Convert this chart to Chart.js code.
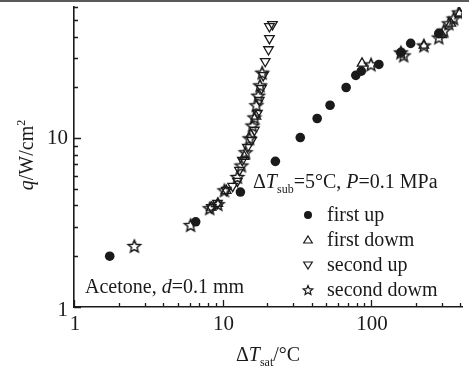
<!DOCTYPE html>
<html>
<head>
<meta charset="utf-8">
<title>Acetone boiling curve</title>
<script src="https://cdn.jsdelivr.net/npm/chart.js@4"></script>
<style>
  html, body { margin: 0; padding: 0; background: #fff; }
</style>
</head>
<body>
<canvas id="chart" width="469" height="372"></canvas>
<script>
// tick labels
const xTicks = [1, 10, 100];
const yTicks = [1, 10];

// first up (filled circles)
const firstUpX = [1.74, 6.6, 13.2, 22.7, 33.4, 43.4, 53, 68, 79, 86, 113, 159, 185, 286];
const firstUpY = [2.0, 3.2, 4.8, 7.3, 10.1, 13.1, 15.7, 20, 23.6, 25, 27.4, 32.3, 36.5, 41.8];

// first dowm (open up triangles)
const firstDownX = [8.4, 9.3, 10.6, 14.0, 15.5, 16.8, 87, 227, 300, 345, 395];
const firstDownY = [3.9, 4.1, 4.9, 7.8, 10.5, 13.5, 27.8, 35.5, 41, 48, 55];

// second up (open down triangles)
const secondUpX = [8.4, 9.25, 10.6, 11.7, 12.6, 13.0, 13.6, 14.7, 15.7, 16.4, 17.2, 17.7, 18.3, 18.8, 19.4, 20.4, 20.7, 20.7, 21.7];
const secondUpY = [3.9, 4.12, 4.92, 5.2, 5.57, 6.47, 7.41, 8.85, 9.73, 11.2, 14.1, 16.8, 19.8, 23.6, 28.6, 33.6, 39.1, 46, 47.3];

// second dowm (open stars)
const secondDownX = [2.55, 6.1, 8.2, 9.3, 10.3, 12.6, 13.4, 14.3, 15.2, 15.9, 16.4, 16.9, 17.4, 17.9, 18.5, 100, 159, 166, 227, 286, 309, 334, 360, 390];
const secondDownY = [2.3, 3.06, 3.85, 4.07, 4.92, 5.9, 6.9, 8.27, 10.0, 11.9, 13.3, 15.7, 17.9, 20.6, 24.5, 27.4, 32.3, 31, 35.5, 39.6, 43.5, 48, 51.3, 55.7];

const FONT = '"Liberation Serif", "Times New Roman", serif';
const INK = '#1a1a1a';

function toPoints(xs, ys) {
  return xs.map((x, i) => ({ x: x, y: ys[i] }));
}

// 5 point open star as an image for pointStyle
function starPath(ctx, cx, cy, R) {
  const r = R * 0.45;
  ctx.beginPath();
  for (let i = 0; i < 10; i++) {
    const a = -Math.PI / 2 + i * Math.PI / 5;
    const rr = i % 2 === 0 ? R : r;
    const px = cx + rr * Math.cos(a), py = cy + rr * Math.sin(a);
    if (i === 0) ctx.moveTo(px, py); else ctx.lineTo(px, py);
  }
  ctx.closePath();
}
function makeStar(R, lw) {
  const c = document.createElement('canvas');
  const s = Math.ceil(R * 2 + lw * 2 + 2);
  c.width = s; c.height = s;
  const g = c.getContext('2d');
  g.strokeStyle = INK;
  g.lineWidth = lw;
  g.lineJoin = 'miter';
  starPath(g, s / 2, s / 2 + R * 0.1, R);
  g.stroke();
  return c;
}
const starImg = makeStar(6.5, 1.5);

// text with italic / sub / sup parts
function runsWidth(ctx, runs, size) {
  let w = 0;
  runs.forEach(r => {
    const fs = (r.sub || r.sup) ? Math.round(size * 0.62) : size;
    ctx.font = (r.it ? 'italic ' : '') + fs + 'px ' + FONT;
    w += ctx.measureText(r.t).width;
  });
  return w;
}
function drawRuns(ctx, runs, x, y, size) {
  let cx = x;
  runs.forEach(r => {
    const fs = (r.sub || r.sup) ? Math.round(size * 0.62) : size;
    ctx.font = (r.it ? 'italic ' : '') + fs + 'px ' + FONT;
    let dy = 0;
    if (r.sub) dy = size * 0.25;
    if (r.sup) dy = -size * 0.42;
    ctx.fillText(r.t, cx, y + dy);
    cx += ctx.measureText(r.t).width;
  });
}

const decor = {
  id: 'decor',
  afterDraw(chart) {
    const ctx = chart.ctx;
    const area = chart.chartArea;
    const xs = chart.scales.x, ys = chart.scales.y;
    ctx.save();

    // top strip of the scan
    ctx.fillStyle = '#5a5a5a';
    ctx.fillRect(0, 0, chart.width, 2);

    // inward ticks, major and minor
    ctx.strokeStyle = INK;
    ctx.lineWidth = 1.3;
    ctx.beginPath();
    for (let d = 1; d <= 100; d *= 10) {
      for (let m = 1; m <= 9; m++) {
        const v = d * m;
        if (v > xs.max) break;
        const px = Math.round(xs.getPixelForValue(v)) + 0.5;
        const len = xTicks.includes(v) ? 7 : 4;
        ctx.moveTo(px, area.bottom);
        ctx.lineTo(px, area.bottom - len);
      }
    }
    for (let d = 1; d <= 10; d *= 10) {
      for (let m = 1; m <= 9; m++) {
        const v = d * m;
        if (v > ys.max) break;
        const py = Math.round(ys.getPixelForValue(v)) + 0.5;
        const len = yTicks.includes(v) ? 7 : 4;
        ctx.moveTo(area.left, py);
        ctx.lineTo(area.left + len, py);
      }
    }
    ctx.stroke();

    ctx.fillStyle = INK;
    const size = 20;

    // tick labels
    ctx.font = '21px ' + FONT;
    ctx.textAlign = 'center';
    ctx.textBaseline = 'top';
    xTicks.forEach(v => ctx.fillText(String(v), xs.getPixelForValue(v) + 1, area.bottom + 7));
    ctx.textAlign = 'right';
    ctx.textBaseline = 'middle';
    yTicks.forEach(v => ctx.fillText(String(v), area.left - 6, ys.getPixelForValue(v) + (v === 1 ? 3 : 0)));

    ctx.textBaseline = 'alphabetic';
    ctx.textAlign = 'left';

    // x title
    const xt = [{ t: 'Δ' }, { t: 'T', it: true }, { t: 'sat', sub: true }, { t: '/°C' }];
    drawRuns(ctx, xt, 268 - runsWidth(ctx, xt, size) / 2, 361, size);

    // y title (rotated)
    const yt = [{ t: 'q', it: true }, { t: '/W/cm' }, { t: '2', sup: true }];
    ctx.save();
    ctx.translate(33, 155);
    ctx.rotate(-Math.PI / 2);
    drawRuns(ctx, yt, -runsWidth(ctx, yt, size) / 2, 0, size);
    ctx.restore();

    // conditions
    drawRuns(ctx, [{ t: 'Δ' }, { t: 'T', it: true }, { t: 'sub', sub: true }, { t: '=5°C, ' },
      { t: 'P', it: true }, { t: '=0.1 MPa' }], 253, 188, size);

    // fluid
    drawRuns(ctx, [{ t: 'Acetone, ' }, { t: 'd', it: true }, { t: '=0.1 mm' }], 85, 293, size);

    // legend
    const lx = 308, tx = 327;
    const rows = [221, 246, 271, 296];
    const labels = ['first up', 'first dowm', 'second up', 'second dowm'];
    ctx.font = size + 'px ' + FONT;
    labels.forEach((l, i) => ctx.fillText(l, tx, rows[i]));
    const my = rows.map(r => r - 6);
    ctx.beginPath();
    ctx.arc(lx, my[0], 4, 0, Math.PI * 2);
    ctx.fill();
    ctx.lineWidth = 1.2;
    ctx.beginPath();
    ctx.moveTo(lx, my[1] - 4); ctx.lineTo(lx + 4.3, my[1] + 3); ctx.lineTo(lx - 4.3, my[1] + 3); ctx.closePath();
    ctx.stroke();
    ctx.beginPath();
    ctx.moveTo(lx, my[2] + 4); ctx.lineTo(lx + 4.3, my[2] - 3); ctx.lineTo(lx - 4.3, my[2] - 3); ctx.closePath();
    ctx.stroke();
    starPath(ctx, lx, my[3] + 0.5, 5);
    ctx.stroke();

    ctx.restore();
  }
};

new Chart(document.getElementById('chart'), {
  type: 'scatter',
  data: {
    datasets: [
      {
        label: 'first up',
        data: toPoints(firstUpX, firstUpY),
        pointStyle: 'circle',
        pointRadius: 4.8,
        backgroundColor: INK,
        borderColor: INK,
        borderWidth: 0
      },
      {
        label: 'first dowm',
        data: toPoints(firstDownX, firstDownY),
        pointStyle: 'triangle',
        pointRadius: 5.5,
        backgroundColor: 'rgba(0,0,0,0)',
        borderColor: INK,
        borderWidth: 1.3
      },
      {
        label: 'second up',
        data: toPoints(secondUpX, secondUpY),
        pointStyle: 'triangle',
        rotation: 180,
        pointRadius: 5.5,
        backgroundColor: 'rgba(0,0,0,0)',
        borderColor: INK,
        borderWidth: 1.3
      },
      {
        label: 'second dowm',
        data: toPoints(secondDownX, secondDownY),
        pointStyle: starImg,
        pointRadius: 6,
        backgroundColor: 'rgba(0,0,0,0)',
        borderColor: INK
      }
    ]
  },
  options: {
    responsive: false,
    animation: false,
    layout: { padding: { top: 7, right: 6, left: 0, bottom: 0 } },
    plugins: {
      legend: { display: false },
      tooltip: { enabled: false }
    },
    scales: {
      x: {
        type: 'logarithmic',
        min: 1,
        max: 410,
        afterBuildTicks: s => { s.ticks = xTicks.map(v => ({ value: v })); },
        afterFit: s => { s.height = 65; },
        grid: { display: false, drawTicks: false },
        border: { display: true, color: INK, width: 1.6 },
        ticks: { display: false }
      },
      y: {
        type: 'logarithmic',
        min: 1,
        max: 60,
        afterBuildTicks: s => { s.ticks = yTicks.map(v => ({ value: v })); },
        afterFit: s => { s.width = 74; },
        grid: { display: false, drawTicks: false },
        border: { display: true, color: INK, width: 1.6 },
        ticks: { display: false }
      }
    }
  },
  plugins: [decor]
});
</script>
</body>
</html>
